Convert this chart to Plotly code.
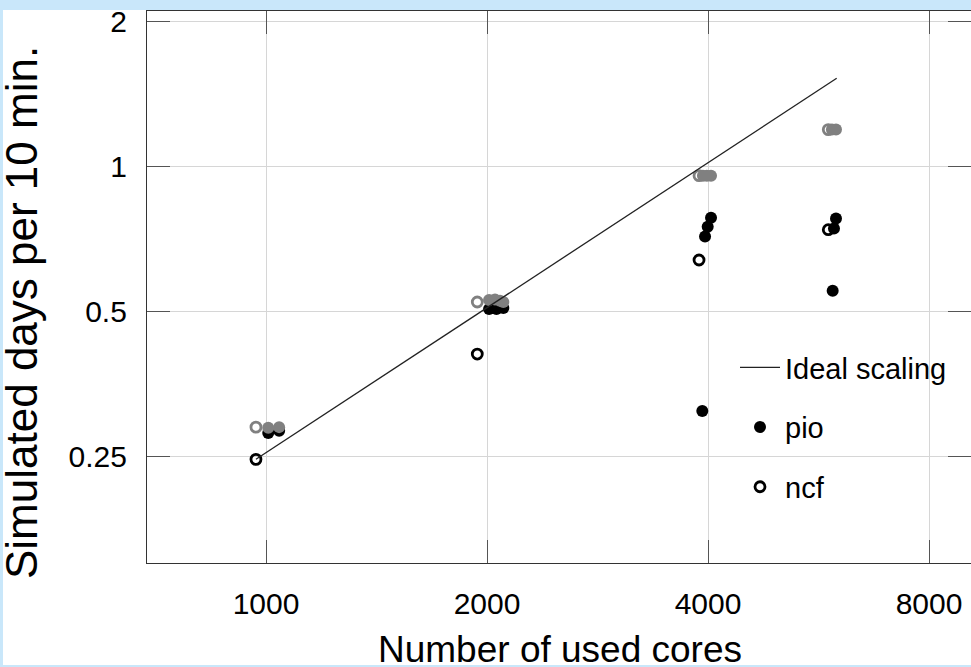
import plotly.graph_objects as go

# ---- data ----
ideal_cores = [969, 5989]
ideal_days = [0.2461, 1.521]

pio_cores = [1007, 1042, 2013, 2060, 2105, 3963, 3996, 4038, 3929, 5938, 5976, 5914]
pio_days = [0.279, 0.282, 0.505, 0.505, 0.507, 0.714, 0.748, 0.781, 0.310, 0.742, 0.778, 0.551]

ncf_cores = [969, 1940, 3889, 5833]
ncf_days = [0.246, 0.407, 0.638, 0.7375]

gray_filled_cores = [1007, 1042, 2013, 2051, 2083, 2105, 3937, 3986, 4038, 5900, 5976]
gray_filled_days = [0.286, 0.287, 0.527, 0.528, 0.525, 0.522, 0.955, 0.955, 0.955, 1.19, 1.19]

gray_open_cores = [969, 1940, 3889, 5833]
gray_open_days = [0.287, 0.522, 0.955, 1.19]

x_tickvals = [1000, 2000, 4000, 8000]
x_ticktext = ["1000", "2000", "4000", "8000"]
y_tickvals = [0.25, 0.5, 1, 2]
y_ticktext = ["0.25", "0.5", "1", "2"]

FONT = "Liberation Sans, Arial, Helvetica, sans-serif"
GRAY = "#808080"
X_RANGE = [2.8379, 3.9603]
Y_RANGE = [-0.8242, 0.3218]

fig = go.Figure()

fig.add_trace(go.Scatter(x=pio_cores, y=pio_days, mode="markers", name="pio",
                         legendgroup="b", legendrank=2,
                         marker=dict(symbol="circle", size=12, color="black")))
fig.add_trace(go.Scatter(x=ncf_cores, y=ncf_days, mode="markers", name="ncf",
                         legendgroup="c", legendrank=3,
                         marker=dict(symbol="circle-open", size=10, color="black",
                                     line=dict(width=2.8, color="black"))))
fig.add_trace(go.Scatter(x=gray_filled_cores, y=gray_filled_days, mode="markers",
                         showlegend=False,
                         marker=dict(symbol="circle", size=12, color=GRAY)))
fig.add_trace(go.Scatter(x=gray_open_cores, y=gray_open_days, mode="markers",
                         showlegend=False,
                         marker=dict(symbol="circle-open", size=10, color=GRAY,
                                     line=dict(width=2.8, color=GRAY))))
fig.add_trace(go.Scatter(x=ideal_cores, y=ideal_days, mode="lines", name="Ideal scaling",
                         legendgroup="a", legendrank=1,
                         line=dict(color="#222222", width=1.3)))

# white "slide" panel over the light-blue page
fig.add_shape(type="rect", xref="paper", yref="paper",
              x0=(3 - 147) / 824, x1=1.0, y0=(563 - 665) / 552, y1=(563 - 10) / 552,
              fillcolor="white", line=dict(width=0), layer="below")

axis_common = dict(
    type="log", showgrid=True, gridcolor="#d6d6d6", gridwidth=1,
    showline=True, linecolor="#333333", linewidth=1.3,
    ticks="inside", ticklen=23, tickwidth=1, tickcolor="#555555",
    tickfont=dict(family=FONT, size=30, color="black"),
    zeroline=False,
)

fig.update_xaxes(**axis_common, mirror="ticks",
                 range=X_RANGE,
                 tickvals=x_tickvals, ticktext=x_ticktext, ticklabelstandoff=14)
fig.update_layout(yaxis=dict(**axis_common, mirror=False,
                             range=Y_RANGE,
                             tickvals=y_tickvals, ticktext=y_ticktext, ticklabelstandoff=13))
# right-hand inside ticks without an axis line
fig.update_layout(yaxis2=dict(type="log", overlaying="y", side="right", range=Y_RANGE,
                              tickvals=y_tickvals, showticklabels=False, showgrid=False,
                              showline=False, zeroline=False,
                              ticks="inside", ticklen=23, tickwidth=1, tickcolor="#555555"))
fig.add_trace(go.Scatter(x=[None], y=[None], yaxis="y2", showlegend=False,
                         hoverinfo="skip"))

fig.add_annotation(text="Number of used cores", xref="paper", yref="paper",
                   x=(560 - 147) / 824, y=(563 - 649) / 552,
                   xanchor="center", yanchor="middle", showarrow=False,
                   font=dict(family=FONT, size=37, color="black"))
fig.add_annotation(text="Simulated days per 10 min.", xref="paper", yref="paper",
                   x=(21 - 147) / 824, y=(563 - 313) / 552, textangle=-90,
                   xanchor="center", yanchor="middle", showarrow=False,
                   font=dict(family=FONT, size=44, color="black"))

fig.update_layout(
    width=971, height=667,
    margin=dict(l=147, r=0, t=11, b=104, pad=0),
    paper_bgcolor="#c9e7fa", plot_bgcolor="white",
    showlegend=True,
    legend=dict(x=(735 - 147) / 824, y=(563 - 342) / 552, xanchor="left", yanchor="top",
                bgcolor="rgba(0,0,0,0)", borderwidth=0,
                font=dict(family=FONT, size=29, color="black"),
                traceorder="grouped", tracegroupgap=19, itemwidth=40),
)

fig.write_html("out.html")
